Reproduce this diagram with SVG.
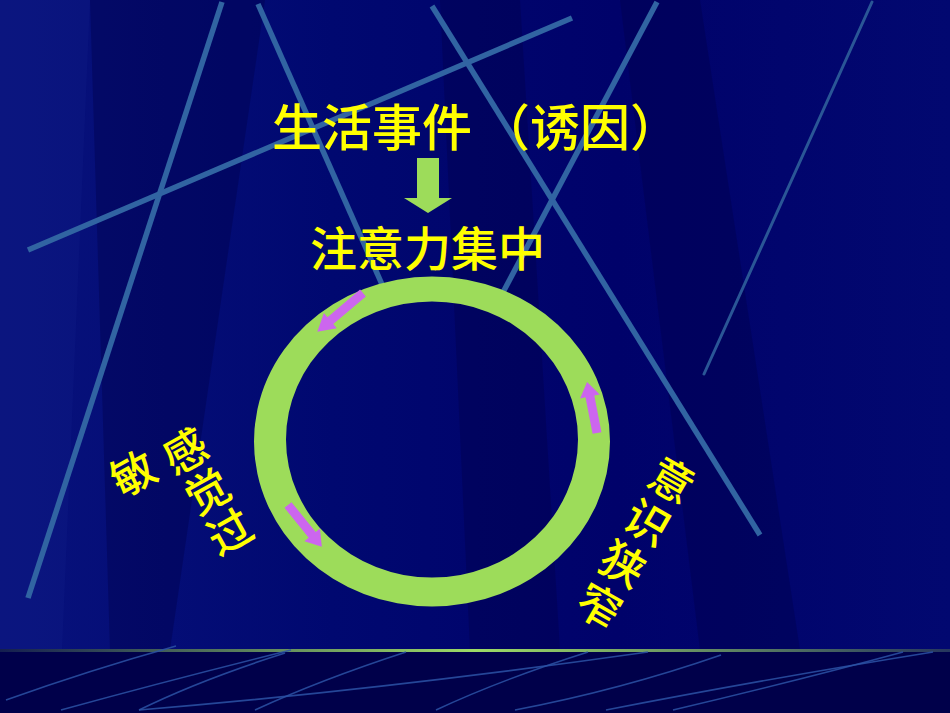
<svg xmlns="http://www.w3.org/2000/svg" width="950" height="713" viewBox="0 0 950 713">
<defs>
<linearGradient id="bg" x1="0" y1="0" x2="1" y2="0">
<stop offset="0" stop-color="#08127c"/>
<stop offset="0.35" stop-color="#000870"/>
<stop offset="0.65" stop-color="#00026a"/>
<stop offset="1" stop-color="#020870"/>
</linearGradient>
<linearGradient id="hl" x1="0" y1="0" x2="1" y2="0">
<stop offset="0" stop-color="#141e50"/>
<stop offset="0.5" stop-color="#9ddc66"/>
<stop offset="1" stop-color="#26365e"/>
</linearGradient>
<path id="arr" d="M0,-4.5 L40,-4.5 L40,-10 L56,0 L40,10 L40,4.5 L0,4.5 Z"/>
</defs>
<style>
.deco{stroke:#3164a2;stroke-width:5.5;stroke-linecap:butt;fill:none}
.thin{stroke:#2a5696;stroke-width:3;stroke-linecap:round;fill:none}
.low{stroke:#2b52a6;stroke-width:1.6;fill:none;opacity:.85}
.band{fill:#101c86;opacity:.35}
.dark{fill:#00004c;opacity:.4}
.t{font-family:"Noto Sans CJK SC","Noto Sans CJK JP",sans-serif;fill:#ffff00;font-weight:500}
.v{font-size:44px;text-anchor:middle;dominant-baseline:central}
.pa{fill:#cc66ee}
.g{fill:#9ddc5a}
</style>
<g id="background">
<rect width="950" height="713" fill="url(#bg)"/>
<polygon class="band" points="0,0 90,0 62,650 0,650"/>
<polygon class="dark" points="90,0 265,0 170,650 110,650"/>
<polygon class="dark" points="440,0 520,0 560,650 470,650"/>
<polygon class="dark" points="620,0 700,0 800,650 700,650"/>
<rect x="0" y="652" width="950" height="61" fill="#00004a"/>
<rect x="0" y="649" width="950" height="3" fill="url(#hl)"/>
</g>
<g id="decoration">
<line class="deco" x1="222" y1="2" x2="28" y2="598"/>
<line class="deco" x1="258" y1="4" x2="388" y2="298"/>
<line class="deco" x1="432" y1="6" x2="760" y2="535"/>
<line class="deco" x1="657" y1="2" x2="500" y2="298"/>
<line class="deco" x1="28" y1="250" x2="572" y2="18"/>
<line class="thin" x1="872" y1="2" x2="704" y2="374"/>
<path class="low" d="M6,700 Q90,670 176,646"/>
<path class="low" d="M61,710 Q170,680 291,650"/>
<path class="low" d="M139,710 Q200,680 285,653"/>
<path class="low" d="M139,710 Q380,690 648,652"/>
<path class="low" d="M255,710 Q320,680 406,652"/>
<path class="low" d="M436,710 Q500,680 588,652"/>
<path class="low" d="M515,710 Q620,690 721,655"/>
<path class="low" d="M606,710 Q760,680 933,652"/>
<path class="low" d="M673,710 Q800,680 903,652"/>
</g>
<g id="node-event">
<text class="t" x="272" y="146" font-size="50">生活事件</text>
<text class="t" x="480" y="146" font-size="50">（诱因）</text>
</g>
<g id="node-attention">
<text class="t" x="310" y="266" font-size="47">注意力集中</text>
</g>
<g id="node-cycle">
<path class="g" fill-rule="evenodd" d="M254,441.5 a178,165 0 1,0 356,0 a178,165 0 1,0 -356,0 Z M286,439.5 a146,138 0 1,0 292,0 a146,138 0 1,0 -292,0 Z"/>
</g>
<g id="node-sensory">
<g transform="translate(184,449) rotate(-29)">
<text class="t v" x="0" y="0">感</text>
<text class="t v" x="0" y="46">觉</text>
<text class="t v" x="0" y="92">过</text>
<text class="t v" x="-56" y="-6">敏</text>
</g>
</g>
<g id="node-narrowing">
<g transform="translate(673,478) rotate(30)">
<text class="t v" x="0" y="0">意</text>
<text class="t v" x="0" y="48.6">识</text>
<text class="t v" x="0" y="97.2">狭</text>
<text class="t v" x="0" y="145.8">窄</text>
</g>
</g>
<g id="connectors">
<polygon class="g" points="417,158 439,158 439,198 452,198 428,213 404,198 417,198"/>
<use href="#arr" class="pa" transform="translate(363 293) rotate(139.7) scale(1.07 1)"/>
<use href="#arr" class="pa" transform="translate(597 433) rotate(-101) scale(0.93 1)"/>
<use href="#arr" class="pa" transform="translate(288 505) rotate(51) scale(0.96 1)"/>
</g>
</svg>
